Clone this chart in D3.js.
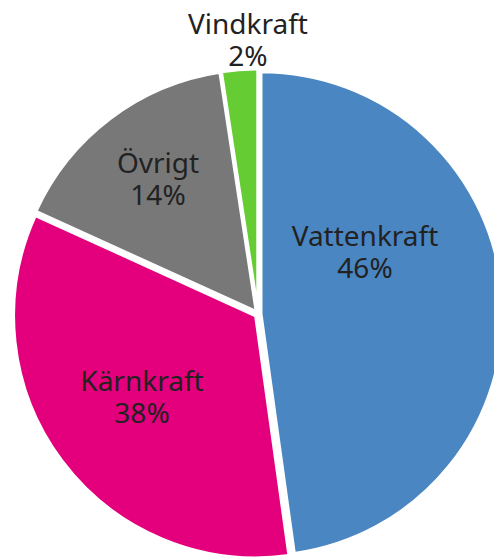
<!DOCTYPE html>
<html>
<head>
<meta charset="utf-8">
<script src="https://cdn.jsdelivr.net/npm/d3@7"></script>
<style>
  html, body { margin: 0; padding: 0; background: #fff; }
  svg { display: block; }
  text { font-family: "Noto Sans", sans-serif; fill: #222; }
</style>
</head>
<body>
<div id="chart"></div>
<script>
////////// Data (shares as drawn in the picture) //////////
const sources = ["Vattenkraft", "Kärnkraft", "Övrigt", "Vindkraft"];
const shares = [47.8, 34.0, 15.8, 2.4];
const shareLabels = ["46%", "38%", "14%", "2%"];
const colors = ["#4a86c2", "#e4007c", "#787878", "#66cc33"];

const width = 494;
const height = 557;
const cx = 258, cy = 314;
const radius = 242;
const explode = 3;
const lineGap = 32;

// label anchor points (x center, baseline of first line)
const labelPos = [[365, 246], [142, 391], [158, 173], [248, 34]];

const svg = d3.select("#chart")
  .append("svg")
  .attr("width", width)
  .attr("height", height);

const pie = d3.pie().sort(null).value(d => d.share);
const arc = d3.arc().innerRadius(0).outerRadius(radius);

const data = sources.map((s, i) => ({ name: s, share: shares[i], label: shareLabels[i], color: colors[i], pos: labelPos[i] }));
const arcs = pie(data);

const g = svg.append("g").attr("transform", `translate(${cx},${cy})`);

g.selectAll("path")
  .data(arcs)
  .enter().append("path")
  .attr("d", arc)
  .attr("fill", d => d.data.color)
  .attr("stroke", "#fff")
  .attr("stroke-width", 3)
  .attr("stroke-linejoin", "round")
  .attr("transform", d => {
    const a = (d.startAngle + d.endAngle) / 2;
    return `translate(${explode * Math.sin(a)},${-explode * Math.cos(a)})`;
  });

/////// Labels (two separate lines each)
const labelG = svg.append("g")
  .selectAll("g")
  .data(arcs)
  .enter().append("g");

labelG.append("text")
  .attr("text-anchor", "middle")
  .attr("font-size", "28px")
  .attr("x", d => d.data.pos[0])
  .attr("y", d => d.data.pos[1])
  .text(d => d.data.name);

labelG.append("text")
  .attr("text-anchor", "middle")
  .attr("font-size", "28px")
  .attr("x", d => d.data.pos[0])
  .attr("y", d => d.data.pos[1] + lineGap)
  .text(d => d.data.label);
</script>
</body>
</html>
